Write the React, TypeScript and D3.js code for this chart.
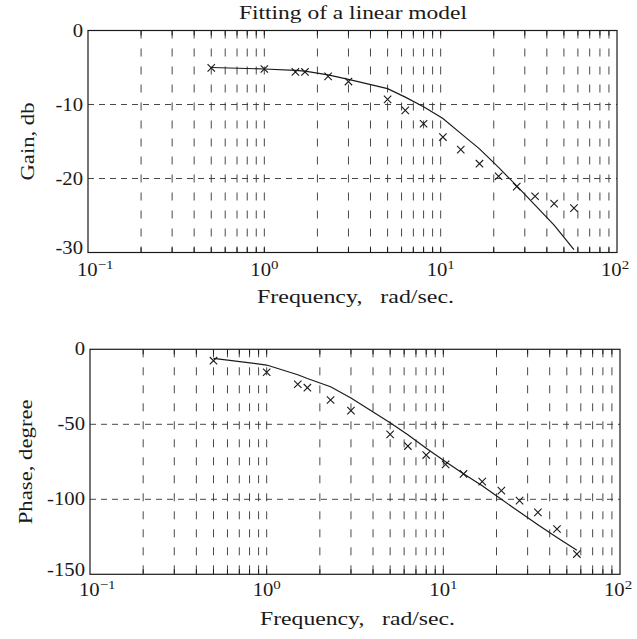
import React from "react";
import * as d3 from "d3";

const freqs = [0.5, 1, 1.5, 1.7, 2.3, 3, 5, 6.3, 8, 10.3, 13, 16.6, 21.3, 27, 34.3, 44, 57];
const gainMeasured = [-5.05, -5.2, -5.6, -5.6, -6.2, -6.9, -9.3, -10.8, -12.6, -14.4, -16.1, -18.0, -19.7, -21.1, -22.4, -23.4, -24.0];
const gainModel = [-5.0, -5.2, -5.4, -5.5, -6.0, -6.6, -7.85, -9.0, -10.3, -11.9, -13.9, -16.0, -18.5, -21.0, -23.6, -26.3, -29.6];
const phaseMeasured = [-7.6, -15.3, -23.3, -25.6, -33.8, -40.9, -56.7, -64.5, -70.5, -76.7, -83.1, -88.2, -94.2, -100.9, -108.7, -119.8, -136.5];
const phaseModel = [-6, -10.5, -17, -19.5, -25, -32.5, -49, -57, -66, -75, -83, -91, -100, -108.5, -117, -125.5, -134];

const gainTicks = [0, -10, -20, -30];
const phaseTicks = [0, -50, -100, -150];
const decadeExps = [-1, 0, 1, 2];

const title = "Fitting of a linear model";
const xLabel = "Frequency,\u2002 rad/sec.";
const gainLabel = "Gain, db";
const phaseLabel = "Phase, degree";

const FONT = "'Liberation Serif', 'Times New Roman', serif";
const INK = "#1a1a1a";
const SX = 1.15;
const TICK_FS = 18;

type PanelProps = {
  x0: number; x1: number; y0: number; y1: number;
  yDomain: [number, number];
  yTicks: number[];
  measured: number[];
  model: number[];
  yLabel: string;
  yLabelX: number;
  yLabelLen: number;
  tickBase: number;
  xLabelBase: number;
  xLabelX: number;
  xLabelLen: number;
  yLabelGap: number;
};

function Panel(p: PanelProps) {
  const x = d3.scaleLog().domain([0.1, 100]).range([p.x0, p.x1]);
  const y = d3.scaleLinear().domain(p.yDomain).range([p.y0, p.y1]);
  const minor: number[] = [];
  for (let e = -1; e < 2; e++) {
    for (let m = 1; m <= 9; m++) {
      minor.push(m * Math.pow(10, e));
    }
  }
  const inner = minor.filter((v) => v > 0.1 + 1e-9 && v < 100);
  const line = d3
    .line<number>()
    .x((_, i) => x(freqs[i]))
    .y((d) => y(d));
  const s = 3.7;
  const labelOffset = (e: number) => (e < 0 ? -11 : e === 2 ? -16 : -14);
  return (
    <g>
      {inner.map((v, i) => (
        <line key={"vg" + i} x1={x(v)} x2={x(v)} y1={p.y0} y2={p.y1}
          stroke="#333" strokeWidth={0.9} strokeDasharray="8,10" />
      ))}
      {p.yTicks.filter((t) => t !== p.yDomain[0] && t !== p.yDomain[1]).map((t, i) => (
        <line key={"hg" + i} x1={p.x0} x2={p.x1} y1={y(t)} y2={y(t)}
          stroke="#333" strokeWidth={0.9} strokeDasharray="6,5" />
      ))}
      {inner.map((v, i) => (
        <g key={"xt" + i}>
          <line x1={x(v)} x2={x(v)} y1={p.y1} y2={p.y1 - 5} stroke={INK} strokeWidth={1} />
          <line x1={x(v)} x2={x(v)} y1={p.y0} y2={p.y0 + 5} stroke={INK} strokeWidth={1} />
        </g>
      ))}
      <rect x={p.x0} y={p.y0} width={p.x1 - p.x0} height={p.y1 - p.y0}
        fill="none" stroke={INK} strokeWidth={1.2} />
      {p.yTicks.map((t, i) => {
        const base = Math.min(y(t) + 6, p.y1 + 1.5);
        return (
          <text key={"yl" + i} transform={`translate(${p.x0 - p.yLabelGap},${base}) scale(${SX},1)`}
            textAnchor="end" fontFamily={FONT} fontSize={TICK_FS} fill={INK}>
            {t === 0 ? "0" : "-" + Math.abs(t)}
          </text>
        );
      })}
      {decadeExps.map((e, i) => (
        <text key={"xl" + i}
          transform={`translate(${x(Math.pow(10, e)) + labelOffset(e)},${p.tickBase}) scale(${SX},1)`}
          fontFamily={FONT} fontSize={TICK_FS} fill={INK}>
          10
          <tspan dy={-7} fontSize={13}>{e < 0 ? "\u2212" + Math.abs(e) : String(e)}</tspan>
        </text>
      ))}
      <text x={p.xLabelX} y={p.xLabelBase} textLength={p.xLabelLen} lengthAdjust="spacingAndGlyphs"
        fontFamily={FONT} fontSize={18.5} fill={INK} style={{ whiteSpace: "pre" }}>
        {xLabel}
      </text>
      <text transform={`translate(${p.yLabelX},${(p.y0 + p.y1) / 2 + p.yLabelLen / 2}) rotate(-90)`}
        textLength={p.yLabelLen} lengthAdjust="spacingAndGlyphs"
        fontFamily={FONT} fontSize={18.5} fill={INK}>
        {p.yLabel}
      </text>
      <path d={line(p.model) || ""} fill="none" stroke={INK} strokeWidth={1.2} />
      {p.measured.map((v, i) => {
        const cx = x(freqs[i]);
        const cy = y(v);
        return (
          <path key={"m" + i}
            d={`M${cx - s},${cy - s}L${cx + s},${cy + s}M${cx - s},${cy + s}L${cx + s},${cy - s}`}
            stroke={INK} strokeWidth={1.1} fill="none" />
        );
      })}
    </g>
  );
}

export default function App() {
  return (
    <svg width={637} height={639} style={{ position: "absolute", left: 0, top: 0, background: "#fff" }}>
      <rect width={637} height={639} fill="#fff" />
      <text x={239} y={19} textLength={228} lengthAdjust="spacingAndGlyphs"
        fontFamily={FONT} fontSize={19} fill={INK}>
        {title}
      </text>
      <Panel x0={88} x1={617} y0={30.5} y1={252.5} yDomain={[0, -30]} yTicks={gainTicks}
        measured={gainMeasured} model={gainModel} yLabel={gainLabel} yLabelX={34} yLabelLen={78}
        tickBase={275.5} xLabelBase={303} xLabelX={257} xLabelLen={197} yLabelGap={5} />
      <Panel x0={90} x1={620} y0={349.3} y1={574.3} yDomain={[0, -150]} yTicks={phaseTicks}
        measured={phaseMeasured} model={phaseModel} yLabel={phaseLabel} yLabelX={32} yLabelLen={125}
        tickBase={596} xLabelBase={625} xLabelX={260} xLabelLen={195} yLabelGap={5} />
    </svg>
  );
}
